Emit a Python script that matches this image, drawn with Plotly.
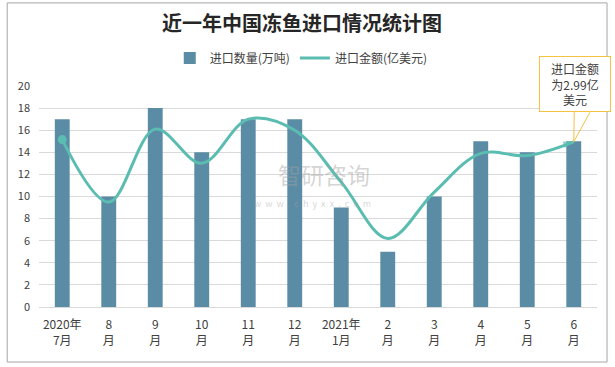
import plotly.graph_objects as go

categories = ["2020年<br>7月", "8<br>月", "9<br>月", "10<br>月", "11<br>月", "12<br>月",
              "2021年<br>1月", "2<br>月", "3<br>月", "4<br>月", "5<br>月", "6<br>月"]
volume = [17, 10, 18, 14, 17, 17, 9, 5, 10, 15, 14, 15]          # 进口数量(万吨)
amount = [3.03, 1.90, 3.22, 2.60, 3.40, 3.20, 2.26, 1.24, 2.08, 2.78, 2.74, 2.99]  # 进口金额(亿美元)
y_ticks = [0, 2, 4, 6, 8, 10, 12, 14, 16, 18, 20]

FONT = "Noto Sans CJK SC"
TXT = "#404040"
BAR = "#5b8ca6"
LINE = "#5bbdb1"

xs = list(range(len(categories)))
n = len(amount)

fig = go.Figure()
fig.add_trace(go.Bar(
    x=xs, y=volume, name="进口数量(万吨)",
    marker=dict(color=BAR, line=dict(width=0)),
))
fig.add_trace(go.Scatter(
    x=xs, y=amount, name="进口金额(亿美元)", yaxis="y2",
    mode="lines+markers",
    line=dict(color=LINE, width=3, shape="spline", smoothing=1.0),
    marker=dict(color=LINE, symbol="arrow", size=[0] * (n - 1) + [11],
                angleref="previous", line=dict(width=0)),
))
# start dot of the line
fig.add_trace(go.Scatter(
    x=xs[:1], y=amount[:1], yaxis="y2", mode="markers", showlegend=False,
    marker=dict(color=LINE, symbol="circle", size=9), hoverinfo="skip",
))

fig.update_layout(
    width=615, height=367,
    margin=dict(l=39, r=18, t=86, b=60),
    paper_bgcolor="white", plot_bgcolor="white",
    font=dict(family=FONT, size=12, color=TXT),
    title=dict(text="<b>近一年中国冻鱼进口情况统计图</b>", x=0.491, xanchor="center",
               y=0.935, yanchor="middle", font=dict(size=20, color="#262626", family=FONT)),
    legend=dict(orientation="h", x=0.47, xanchor="center", y=1.127, yanchor="middle",
                font=dict(size=12, color=TXT), itemwidth=30, bgcolor="rgba(0,0,0,0)"),
    bargap=0.68,
    showlegend=True,
    xaxis=dict(tickmode="array", tickvals=xs, ticktext=categories,
               range=[-0.5, len(categories) - 0.5], showgrid=False, zeroline=False,
               showline=True, linecolor="#d9d9d9", ticks="", ticklabelstandoff=7,
               tickfont=dict(size=12, color=TXT)),
    yaxis=dict(range=[0, 20], tickvals=y_ticks, gridcolor="#d9d9d9", zeroline=False,
               showline=False, ticks="", tickfont=dict(size=11, color=TXT), ticklabelstandoff=8),
    yaxis2=dict(range=[0, 4], overlaying="y", side="right", visible=False),
)

# outer border
fig.add_shape(type="rect", xref="paper", yref="paper", x0=-0.057, x1=1.018, y0=-0.249, y1=1.376,
              line=dict(color="#a6a6a6", width=1), fillcolor="rgba(0,0,0,0)", layer="below")

# watermark
fig.add_annotation(xref="paper", yref="paper", x=0.51, y=0.6, text="智研咨询", showarrow=False,
                   font=dict(size=23, color="rgba(160,160,160,0.45)", family=FONT))
fig.add_annotation(xref="paper", yref="paper", x=0.49, y=0.47, text="w  w  w  .  c  h  y  x  x  .  c  o  m",
                   showarrow=False, font=dict(size=9, color="rgba(160,160,160,0.45)", family=FONT))

# callout
last = n - 1
fig.add_annotation(x=last, y=amount[last], xref="x", yref="y2", text="", showarrow=True,
                   arrowhead=0, arrowwidth=1, arrowcolor="#f5c242", ax=17, ay=-31)
fig.add_annotation(x=last, y=amount[last], xref="x", yref="y2",
                   text="进口金额<br>为2.99亿<br>美元", showarrow=True, arrowhead=0, arrowwidth=1,
                   arrowcolor="#f5c242", ax=1, ay=-58, bordercolor="#f5c242", borderwidth=1,
                   borderpad=3, bgcolor="white", width=64, font=dict(size=12, color=TXT))

fig.write_html("out.html", config={"displayModeBar": False},
               post_script="document.body.style.margin='0';")
